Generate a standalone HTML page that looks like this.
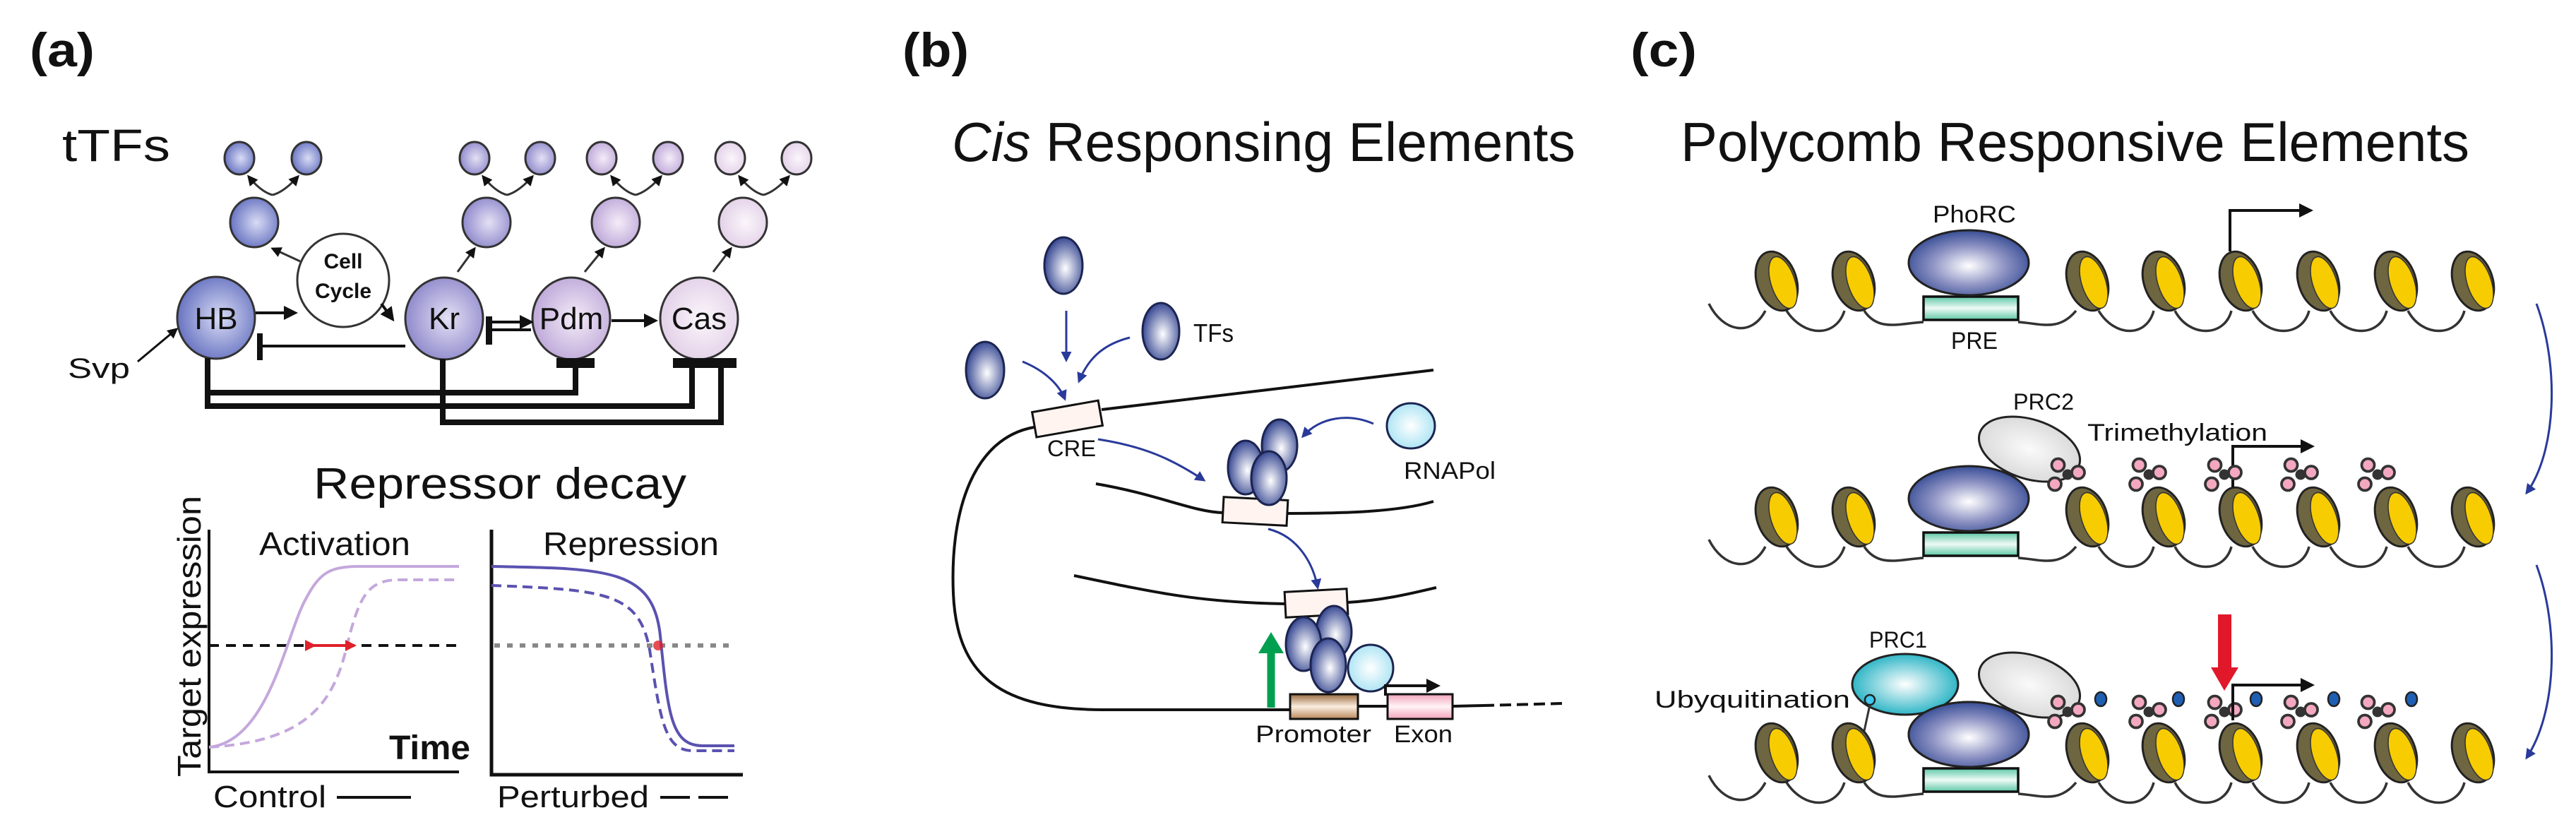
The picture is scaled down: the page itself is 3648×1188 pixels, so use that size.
<!DOCTYPE html>
<html><head><meta charset="utf-8"><style>
html,body{margin:0;padding:0;background:#fff;}
svg{display:block;}
text{font-family:"Liberation Sans",sans-serif;fill:#111;}
</style></head><body>
<svg width="3648" height="1188" viewBox="0 0 3648 1188" xmlns="http://www.w3.org/2000/svg">
<defs>
<radialGradient id="gHB" cx="0.55" cy="0.5" r="0.6"><stop offset="0" stop-color="#d8dcf4"/><stop offset="1" stop-color="#5e6abd"/></radialGradient>
<radialGradient id="gKr" cx="0.55" cy="0.5" r="0.6"><stop offset="0" stop-color="#e4e0f4"/><stop offset="1" stop-color="#8782c8"/></radialGradient>
<radialGradient id="gPdm" cx="0.55" cy="0.5" r="0.6"><stop offset="0" stop-color="#f4ecf8"/><stop offset="1" stop-color="#b9a2d6"/></radialGradient>
<radialGradient id="gCas" cx="0.55" cy="0.5" r="0.6"><stop offset="0" stop-color="#fbf6fb"/><stop offset="1" stop-color="#e0cde6"/></radialGradient>
<radialGradient id="gTF" cx="0.55" cy="0.55" r="0.6"><stop offset="0" stop-color="#ffffff"/><stop offset="1" stop-color="#283a8a"/></radialGradient>
<radialGradient id="gPho" cx="0.5" cy="0.55" r="0.6"><stop offset="0" stop-color="#ffffff"/><stop offset="0.5" stop-color="#8f94c4"/><stop offset="1" stop-color="#263f8c"/></radialGradient>
<radialGradient id="gPol" cx="0.5" cy="0.5" r="0.6"><stop offset="0" stop-color="#ffffff"/><stop offset="1" stop-color="#9fe0f2"/></radialGradient>
<radialGradient id="gPRC1" cx="0.5" cy="0.5" r="0.6"><stop offset="0" stop-color="#ffffff"/><stop offset="1" stop-color="#06a7bb"/></radialGradient>
<radialGradient id="gPRC2" cx="0.5" cy="0.5" r="0.6"><stop offset="0" stop-color="#fafafa"/><stop offset="1" stop-color="#d5d5d5"/></radialGradient>
<linearGradient id="gPRE" x1="0" y1="0" x2="0" y2="1"><stop offset="0" stop-color="#5cc7a5"/><stop offset="0.5" stop-color="#eefaf5"/><stop offset="1" stop-color="#5cc7a5"/></linearGradient>
<linearGradient id="gProm" x1="0" y1="0" x2="0" y2="1"><stop offset="0" stop-color="#9a6a3e"/><stop offset="0.5" stop-color="#fbeee0"/><stop offset="1" stop-color="#b9875a"/></linearGradient>
<linearGradient id="gExon" x1="0" y1="0" x2="0" y2="1"><stop offset="0" stop-color="#f2a3bb"/><stop offset="0.5" stop-color="#fff3f6"/><stop offset="1" stop-color="#f2a3bb"/></linearGradient>
<marker id="ak" viewBox="0 0 10 10" refX="8" refY="5" markerWidth="5" markerHeight="5" orient="auto"><path d="M0,0L10,5L0,10z" fill="#111"/></marker>
<marker id="ab" viewBox="0 0 10 10" refX="8" refY="5" markerWidth="5" markerHeight="5" orient="auto"><path d="M0,0L10,5L0,10z" fill="#2a3a9a"/></marker>
<marker id="ar" viewBox="0 0 10 10" refX="5" refY="5" markerWidth="4" markerHeight="4" orient="auto"><path d="M0,0L10,5L0,10z" fill="#e0202a"/></marker>
<g id="nuc">
<ellipse cx="0" cy="0" rx="28" ry="43" transform="rotate(-18)" fill="#6e6541" stroke="#222" stroke-width="3"/>
<ellipse cx="9" cy="2" rx="17" ry="38" transform="rotate(-18 9 2)" fill="#f7cc00" stroke="#333" stroke-width="1.5"/>
</g>
<g id="flw" transform="scale(1.5)">
<circle cx="-9" cy="-9" r="6" fill="#f4a8c0" stroke="#333" stroke-width="2.5"/>
<circle cx="10" cy="-2" r="6" fill="#f4a8c0" stroke="#333" stroke-width="2.5"/>
<circle cx="-12" cy="9" r="6" fill="#f4a8c0" stroke="#333" stroke-width="2.5"/>
<circle cx="0" cy="0" r="5" fill="#333"/>
</g>
</defs>

<!-- ===== Panel (a) ===== -->
<text x="42" y="94" font-size="68" font-weight="bold" textLength="92" lengthAdjust="spacingAndGlyphs">(a)</text>
<text x="88" y="228" font-size="64" textLength="153" lengthAdjust="spacingAndGlyphs">tTFs</text>

<g stroke="#333" stroke-width="3">
<ellipse cx="339" cy="224" rx="21" ry="23" fill="url(#gHB)"/><ellipse cx="434" cy="224" rx="21" ry="23" fill="url(#gHB)"/>
<ellipse cx="672" cy="224" rx="21" ry="23" fill="url(#gKr)"/><ellipse cx="765" cy="224" rx="21" ry="23" fill="url(#gKr)"/>
<ellipse cx="852" cy="224" rx="21" ry="23" fill="url(#gPdm)"/><ellipse cx="946" cy="224" rx="21" ry="23" fill="url(#gPdm)"/>
<ellipse cx="1034" cy="224" rx="21" ry="23" fill="url(#gCas)"/><ellipse cx="1128" cy="224" rx="21" ry="23" fill="url(#gCas)"/>
<ellipse cx="360" cy="315" rx="34" ry="35" fill="url(#gHB)"/>
<ellipse cx="689" cy="315" rx="34" ry="35" fill="url(#gKr)"/>
<ellipse cx="872" cy="315" rx="34" ry="35" fill="url(#gPdm)"/>
<ellipse cx="1052" cy="315" rx="34" ry="35" fill="url(#gCas)"/>
</g>
<g fill="none" stroke="#333" stroke-width="3" marker-end="url(#ak)">
<path d="M386,276 Q370,272 352,250"/><path d="M386,276 Q402,272 422,250"/>
<path d="M718,276 Q702,272 684,250"/><path d="M718,276 Q734,272 754,250"/>
<path d="M900,276 Q884,272 866,250"/><path d="M900,276 Q916,272 936,250"/>
<path d="M1081,276 Q1065,272 1047,250"/><path d="M1081,276 Q1097,272 1117,250"/>
<path d="M425,370 L386,352"/>
<path d="M648,385 L672,352"/>
<path d="M828,385 L855,352"/>
<path d="M1010,385 L1035,352"/>
</g>
<ellipse cx="486" cy="397" rx="65" ry="66" fill="#fff" stroke="#333" stroke-width="3"/>
<text x="486" y="380" font-size="30" font-weight="bold" text-anchor="middle">Cell</text>
<text x="486" y="422" font-size="30" font-weight="bold" text-anchor="middle">Cycle</text>
<g stroke="#333" stroke-width="3">
<ellipse cx="306" cy="450" rx="55" ry="58" fill="url(#gHB)"/>
<ellipse cx="629" cy="451" rx="55" ry="58" fill="url(#gKr)"/>
<ellipse cx="809" cy="451" rx="55" ry="58" fill="url(#gPdm)"/>
<ellipse cx="990" cy="451" rx="55" ry="58" fill="url(#gCas)"/>
</g>
<g font-size="44" text-anchor="middle">
<text x="306" y="466">HB</text><text x="629" y="466">Kr</text><text x="809" y="466">Pdm</text><text x="990" y="466">Cas</text>
</g>
<g fill="none" stroke="#111" stroke-width="4">
<path d="M362,443 L418,443" marker-end="url(#ak)"/>
<path d="M540,430 L556,452" marker-end="url(#ak)"/>
<path d="M866,454 L928,454" marker-end="url(#ak)"/>
<path d="M696,456 L752,456" marker-end="url(#ak)"/>
<path d="M696,467 L752,467"/>
<path d="M574,490 L370,490"/>
<path d="M195,512 L250,466" stroke-width="3" marker-end="url(#ak)"/>
</g>
<rect x="364" y="472" width="8" height="38" fill="#111"/>
<rect x="688" y="448" width="9" height="40" fill="#111"/>
<g fill="none" stroke="#111" stroke-width="8">
<path d="M294,507 L294,556 L815,556 L815,516"/>
<path d="M294,556 L294,575 L980,575 L980,518"/>
<path d="M627,508 L627,598 L1021,598 L1021,518"/>
</g>
<rect x="788" y="507" width="54" height="14" fill="#111"/>
<rect x="953" y="507" width="90" height="14" fill="#111"/>
<text x="96" y="535" font-size="40" textLength="88" lengthAdjust="spacingAndGlyphs">Svp</text>

<text x="444" y="706" font-size="62" textLength="528" lengthAdjust="spacingAndGlyphs">Repressor decay</text>
<text transform="translate(284,1100) rotate(-90)" font-size="46" textLength="398" lengthAdjust="spacingAndGlyphs">Target expression</text>
<g stroke="#111" stroke-width="4" fill="none">
<path d="M296,750 L296,1093 L650,1093"/>
<path d="M696,750 L696,1097 L1052,1097" stroke-width="5"/>
</g>
<text x="367" y="786" font-size="46" textLength="214" lengthAdjust="spacingAndGlyphs">Activation</text>
<text x="769" y="786" font-size="46" textLength="249" lengthAdjust="spacingAndGlyphs">Repression</text>
<path d="M296,914 L650,914" stroke="#111" stroke-width="4" stroke-dasharray="14,10"/>
<path d="M700,914 L1042,914" stroke="#888" stroke-width="6" stroke-dasharray="8,10"/>
<g fill="none" stroke-width="4">
<path d="M296,1058 C380,1050 405,900 432,850 C452,812 465,803 505,802 L650,802" stroke="#c4a8dc"/>
<path d="M296,1058 C430,1050 470,1000 490,920 C508,845 520,821 565,821 L650,821" stroke="#c4a8dc" stroke-dasharray="14,8"/>
<path d="M696,802 C860,805 925,805 935,900 C946,1010 950,1056 995,1056 L1040,1056" stroke="#5a52b0"/>
<path d="M696,829 C860,835 905,840 920,920 C936,1025 942,1063 982,1063 L1040,1063" stroke="#5a52b0" stroke-dasharray="14,8"/>
<path d="M440,914 L497,914" stroke="#e0202a" stroke-width="4" marker-end="url(#ar)" marker-start="url(#ar)"/>
</g>
<circle cx="932" cy="914" r="7" fill="#e0202a" opacity="0.8"/>
<text x="551" y="1075" font-size="48" font-weight="bold" textLength="115" lengthAdjust="spacingAndGlyphs">Time</text>
<text x="302" y="1143" font-size="44" textLength="160" lengthAdjust="spacingAndGlyphs">Control</text>
<path d="M477,1129 L582,1129" stroke="#111" stroke-width="4"/>
<text x="704" y="1143" font-size="44" textLength="215" lengthAdjust="spacingAndGlyphs">Perturbed</text>
<path d="M935,1129 L1034,1129" stroke="#111" stroke-width="4" stroke-dasharray="42,12"/>

<!-- ===== Panel (b) ===== -->
<text x="1278" y="94" font-size="68" font-weight="bold" textLength="94" lengthAdjust="spacingAndGlyphs">(b)</text>
<text x="1348" y="228" font-size="78" textLength="883" lengthAdjust="spacingAndGlyphs"><tspan font-style="italic">Cis</tspan> Responsing Elements</text>

<g stroke="#111" stroke-width="4" fill="none">
<path d="M1560,580 L2030,524"/>
<path d="M1464,605 C1380,620 1345,720 1350,840 C1355,960 1420,1004 1560,1005 L1827,1005"/>
<path d="M1552,685 C1640,700 1690,725 1732,726"/>
<path d="M1823,727 C1900,727 1980,725 2030,710"/>
<path d="M1521,815 C1640,840 1700,853 1820,855"/>
<path d="M1908,853 C1960,850 2000,840 2034,832"/>
<path d="M1923,1000 L1965,1000"/>
<path d="M2057,1000 L2100,999"/>
<path d="M2100,999 L2214,996" stroke-dasharray="16,8"/>
</g>
<rect x="1464" y="575" width="95" height="36" fill="#fff4f0" stroke="#111" stroke-width="3" transform="rotate(-10 1512 593)"/>
<text x="1483" y="646" font-size="32" textLength="69" lengthAdjust="spacingAndGlyphs">CRE</text>
<rect x="1732" y="706" width="91" height="36" fill="#fff4f0" stroke="#111" stroke-width="3" transform="rotate(3 1777 724)"/>
<rect x="1820" y="836" width="88" height="36" fill="#fff4f0" stroke="#111" stroke-width="3" transform="rotate(-3 1864 854)"/>
<rect x="1827" y="983" width="96" height="35" fill="url(#gProm)" stroke="#111" stroke-width="3"/>
<rect x="1965" y="983" width="92" height="35" fill="url(#gExon)" stroke="#111" stroke-width="3"/>
<text x="1778" y="1051" font-size="34" textLength="164" lengthAdjust="spacingAndGlyphs">Promoter</text>
<text x="1974" y="1051" font-size="34" textLength="83" lengthAdjust="spacingAndGlyphs">Exon</text>
<g stroke="#1c2450" stroke-width="3" fill="url(#gTF)">
<ellipse cx="1506" cy="376" rx="27" ry="40"/>
<ellipse cx="1644" cy="469" rx="26" ry="40"/>
<ellipse cx="1395" cy="524" rx="27" ry="40"/>
<ellipse cx="1812" cy="631" rx="25" ry="37"/>
<ellipse cx="1764" cy="662" rx="25" ry="38"/>
<ellipse cx="1797" cy="677" rx="25" ry="38"/>
<ellipse cx="1889" cy="895" rx="25" ry="37"/>
<ellipse cx="1846" cy="912" rx="25" ry="38"/>
<ellipse cx="1881" cy="942" rx="25" ry="38"/>
</g>
<g stroke="#1c2450" stroke-width="3" fill="url(#gPol)">
<ellipse cx="1998" cy="603" rx="34" ry="32"/>
<ellipse cx="1941" cy="946" rx="32" ry="33"/>
</g>
<text x="1690" y="484" font-size="36" textLength="57" lengthAdjust="spacingAndGlyphs">TFs</text>
<text x="1988" y="678" font-size="34" textLength="130" lengthAdjust="spacingAndGlyphs">RNAPol</text>
<g fill="none" stroke="#2a3a9a" stroke-width="3" marker-end="url(#ab)">
<path d="M1510,440 L1510,510"/>
<path d="M1600,478 C1560,488 1540,510 1528,540"/>
<path d="M1448,512 C1480,525 1500,545 1508,565"/>
<path d="M1555,622 C1620,632 1660,650 1705,680"/>
<path d="M1945,600 C1910,585 1870,590 1845,618"/>
<path d="M1796,749 C1840,760 1860,800 1866,832"/>
</g>
<path d="M1800,1002 L1800,920" stroke="#00a050" stroke-width="11"/>
<path d="M1782,925 L1800,895 L1818,925z" fill="#00a050"/>
<path d="M1962,985 L1962,971 L2036,971" fill="none" stroke="#111" stroke-width="4" marker-end="url(#ak)"/>

<!-- ===== Panel (c) ===== -->
<text x="2309" y="94" font-size="68" font-weight="bold" textLength="94" lengthAdjust="spacingAndGlyphs">(c)</text>
<text x="2380" y="228" font-size="78" textLength="1117" lengthAdjust="spacingAndGlyphs">Polycomb Responsive Elements</text>

<g id="row1">
<path d="M2420,430 C2440,470 2480,478 2500,440 M2530,440 C2555,478 2600,478 2612,440 M2640,440 C2660,470 2690,458 2724,456 M2858,456 C2890,458 2915,470 2940,440 M2972,440 C2995,478 3040,478 3050,440 M3080,440 C3100,478 3150,478 3160,440 M3190,440 C3210,478 3260,478 3270,440 M3300,440 C3320,478 3370,478 3380,440 M3410,440 C3430,478 3480,478 3490,440" fill="none" stroke="#333" stroke-width="3.5"/>
<use href="#nuc" x="2516" y="398"/><use href="#nuc" x="2625" y="398"/>
<use href="#nuc" x="2956" y="398"/><use href="#nuc" x="3064" y="398"/><use href="#nuc" x="3173" y="398"/>
<use href="#nuc" x="3283" y="398"/><use href="#nuc" x="3393" y="398"/><use href="#nuc" x="3502" y="398"/>
<rect x="2724" y="420" width="134" height="33" fill="url(#gPRE)" stroke="#111" stroke-width="3.5"/>
<ellipse cx="2788" cy="372" rx="85" ry="46" fill="url(#gPho)" stroke="#222" stroke-width="3"/>
</g>
<use href="#row1" y="334"/>
<use href="#row1" y="668"/>
<text x="2737" y="315" font-size="34" textLength="118" lengthAdjust="spacingAndGlyphs">PhoRC</text>
<text x="2763" y="494" font-size="34" textLength="66" lengthAdjust="spacingAndGlyphs">PRE</text>
<path d="M3158,356 L3158,298 L3272,298" fill="none" stroke="#111" stroke-width="4" marker-end="url(#ak)"/>

<ellipse cx="2874" cy="636" rx="74" ry="42" transform="rotate(18 2874 636)" fill="url(#gPRC2)" stroke="#222" stroke-width="3"/>
<text x="2851" y="580" font-size="32" textLength="86" lengthAdjust="spacingAndGlyphs">PRC2</text>
<text x="2956" y="624" font-size="34" textLength="255" lengthAdjust="spacingAndGlyphs">Trimethylation</text>
<path d="M3162,690 L3162,632 L3274,632" fill="none" stroke="#111" stroke-width="4" marker-end="url(#ak)"/>
<use href="#flw" x="2928" y="672"/><use href="#flw" x="3043" y="672"/><use href="#flw" x="3150" y="672"/>
<use href="#flw" x="3258" y="672"/><use href="#flw" x="3367" y="672"/>

<ellipse cx="2874" cy="970" rx="74" ry="42" transform="rotate(18 2874 970)" fill="url(#gPRC2)" stroke="#222" stroke-width="3"/>
<ellipse cx="2698" cy="969" rx="75" ry="43" fill="url(#gPRC1)" stroke="#222" stroke-width="3"/>
<ellipse cx="2788" cy="1040" rx="85" ry="46" fill="url(#gPho)" stroke="#222" stroke-width="3"/>
<circle cx="2648" cy="991" r="7" fill="#40c8ee" stroke="#222" stroke-width="2.5"/>
<path d="M2648,998 L2640,1035" stroke="#333" stroke-width="3"/>
<text x="2647" y="917" font-size="32" textLength="82" lengthAdjust="spacingAndGlyphs">PRC1</text>
<text x="2343" y="1002" font-size="34" textLength="277" lengthAdjust="spacingAndGlyphs">Ubyquitination</text>
<g>
<use href="#flw" x="2928" y="1008"/><use href="#flw" x="3043" y="1008"/><use href="#flw" x="3150" y="1008"/>
<use href="#flw" x="3258" y="1008"/><use href="#flw" x="3367" y="1008"/>
<g fill="#1e5fb4" stroke="#222" stroke-width="2.5">
<ellipse cx="2975" cy="990" rx="8" ry="10"/><ellipse cx="3085" cy="990" rx="8" ry="10"/><ellipse cx="3195" cy="990" rx="8" ry="10"/>
<ellipse cx="3305" cy="990" rx="8" ry="10"/><ellipse cx="3415" cy="990" rx="8" ry="10"/>
</g>
</g>
<path d="M3162,1020 L3162,970 L3274,970" fill="none" stroke="#111" stroke-width="4" marker-end="url(#ak)"/>
<rect x="3141" y="870" width="19" height="80" fill="#e0182a"/>
<path d="M3131,945 L3170,945 L3150,978z" fill="#e0182a"/>

<g fill="none" stroke="#2a3a9a" stroke-width="3" marker-end="url(#ab)">
<path d="M3592,430 C3625,520 3620,640 3578,698"/>
<path d="M3592,800 C3625,890 3620,1010 3578,1073"/>
</g>
</svg>
</body></html>
